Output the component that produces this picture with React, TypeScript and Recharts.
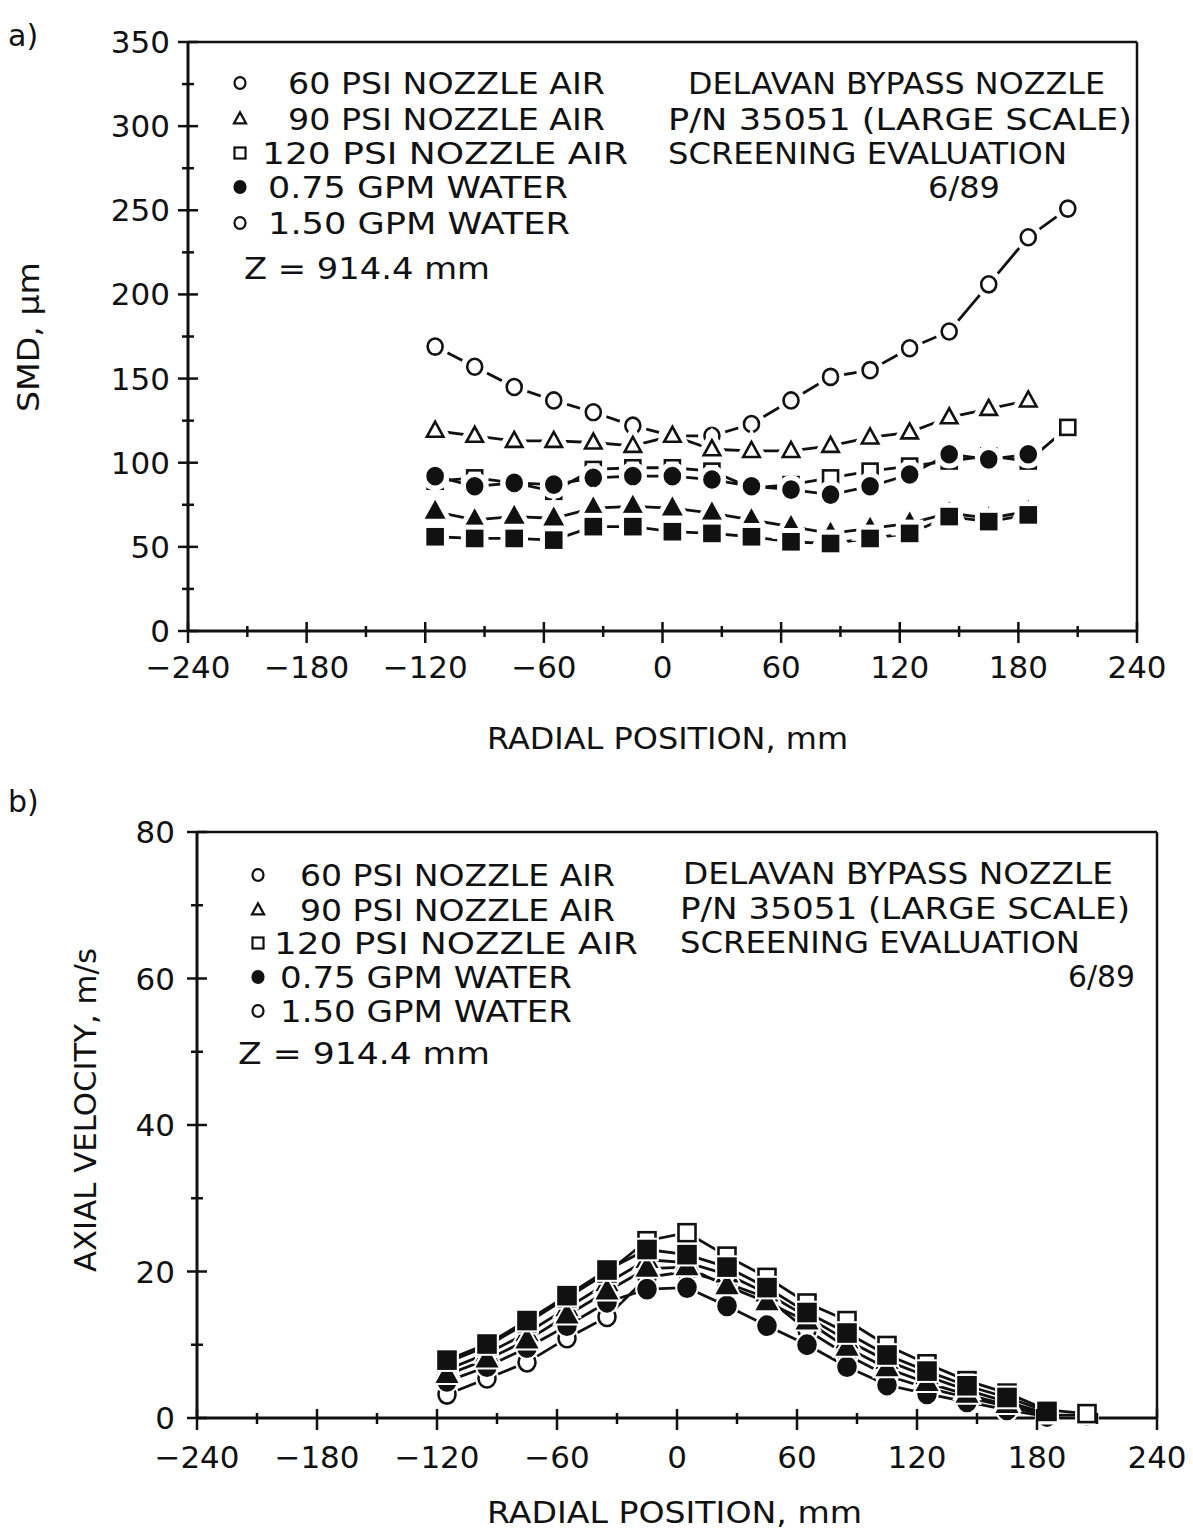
import React from "react";
import { Legend, Line, LineChart, ReferenceLine, XAxis, YAxis } from "recharts";

// radial traverse positions, mm
const RADIAL_POSITION_MM = [-115, -95, -75, -55, -35, -15, 5, 25, 45, 65, 85, 105, 125, 145, 165, 185, 205];

// a) SMD, um  (nozzle air pressure / water flow)
const SMD_60PSI_150GPM = [169, 157, 145, 137, 130, 122, 116, 116, 123, 137, 151, 155, 168, 178, 206, 234, 251];
const SMD_90PSI_150GPM = [119, 116, 113, 113, 112, 110, 116, 108, 107, 107, 110, 115, 118, 127, 132, 137, null];
const SMD_120PSI_150GPM = [89, 91, 88, 83, 96, 97, 97, 95, 85, 87, 91, 95, 98, 101, 104, 101, 121];
const SMD_60PSI_075GPM = [92, 86, 88, 87, 91, 92, 92, 90, 86, 84, 81, 86, 93, 105, 102, 105, null];
const SMD_90PSI_075GPM = [71, 66, 68, 67, 73, 74, 73, 70, 66, 62, 58, 61, 64, 70, 67, 71, null];
const SMD_120PSI_075GPM = [56, 55, 55, 54, 62, 62, 59, 58, 56, 53, 52, 55, 58, 68, 65, 69, null];

// b) axial velocity, m/s
const VEL_60PSI_150GPM = [3.2, 5.4, 7.6, 10.9, 13.8, 19.2, 20.0, 18.4, 16.4, 12.0, 8.6, 5.8, 4.1, 2.8, 1.6, 0.4, 0.4];
const VEL_90PSI_150GPM = [6.6, 8.8, 11.6, 15.0, 18.4, 21.6, 21.2, 19.6, 17.0, 13.8, 10.6, 7.8, 5.7, 3.8, 2.2, 0.6, null];
const VEL_120PSI_150GPM = [7.6, 9.8, 13.0, 16.4, 19.8, 24.2, 25.3, 22.1, 19.2, 15.7, 13.3, 9.9, 7.4, 5.1, 3.4, 1.1, 0.6];
const VEL_60PSI_075GPM = [5.0, 7.0, 9.6, 12.6, 15.8, 17.6, 17.8, 15.3, 12.6, 10.0, 7.0, 4.5, 3.3, 2.2, 1.1, 0.2, null];
const VEL_90PSI_075GPM = [5.9, 8.0, 10.6, 14.0, 17.3, 20.4, 20.6, 18.0, 15.8, 13.2, 9.6, 6.8, 4.8, 3.2, 1.8, 0.5, null];
const VEL_120PSI_075GPM = [7.9, 10.1, 13.3, 16.7, 20.2, 23.0, 22.3, 20.6, 17.8, 14.4, 11.6, 8.6, 6.4, 4.4, 2.8, 0.9, null];

const X_TICKS = [-240, -210, -180, -150, -120, -90, -60, -30, 0, 30, 60, 90, 120, 150, 180, 210, 240];
const SMD_TICKS = [0, 25, 50, 75, 100, 125, 150, 175, 200, 225, 250, 275, 300, 325, 350];
const VELOCITY_TICKS = [0, 10, 20, 30, 40, 50, 60, 70, 80];

const LEGEND_LABELS = ["60 PSI NOZZLE AIR", "90 PSI NOZZLE AIR", "120 PSI NOZZLE AIR", "0.75 GPM WATER", "1.50 GPM WATER"];
const NOTE_LINES = ["DELAVAN BYPASS NOZZLE", "P/N 35051 (LARGE SCALE)", "SCREENING EVALUATION", "6/89"];
const Z_LABEL = "Z = 914.4 mm";

type Shape = "circle" | "triangle" | "square";

// open = 1.50 gpm water, filled = 0.75 gpm water
const SERIES: { key: string; shape: Shape; filled: boolean }[] = [
  { key: "p60w150", shape: "circle", filled: false },
  { key: "p90w150", shape: "triangle", filled: false },
  { key: "p120w150", shape: "square", filled: false },
  { key: "p60w075", shape: "circle", filled: true },
  { key: "p90w075", shape: "triangle", filled: true },
  { key: "p120w075", shape: "square", filled: true },
];

const LEGEND_MARKERS: { shape: Shape; filled: boolean }[] = [
  { shape: "circle", filled: false },
  { shape: "triangle", filled: false },
  { shape: "square", filled: false },
  { shape: "circle", filled: true },
  { shape: "circle", filled: false },
];

const smdRows = RADIAL_POSITION_MM.map((r, i) => ({
  r,
  p60w150: SMD_60PSI_150GPM[i],
  p90w150: SMD_90PSI_150GPM[i],
  p120w150: SMD_120PSI_150GPM[i],
  p60w075: SMD_60PSI_075GPM[i],
  p90w075: SMD_90PSI_075GPM[i],
  p120w075: SMD_120PSI_075GPM[i],
}));

const velocityRows = RADIAL_POSITION_MM.map((r, i) => ({
  r,
  p60w150: VEL_60PSI_150GPM[i],
  p90w150: VEL_90PSI_150GPM[i],
  p120w150: VEL_120PSI_150GPM[i],
  p60w075: VEL_60PSI_075GPM[i],
  p90w075: VEL_90PSI_075GPM[i],
  p120w075: VEL_120PSI_075GPM[i],
}));

const FONT = "'DejaVu Sans', 'Liberation Sans', sans-serif";
const INK = "#111";

const PANEL_A = {
  top: 0,
  height: 770,
  margin: { top: 42, right: 56, bottom: 29, left: 0 },
  yAxisWidth: 188,
  xAxisHeight: 110,
  tag: { text: "a)", x: 8, y: 46 },
  markerX: 240,
  rowY: [83, 119, 153, 187, 223],
  spans: [[288, 605], [288, 605], [262, 628], [268, 568], [268, 570]],
  z: { y: 268, span: [244, 490] },
  noteY: [83, 119, 153, 187],
  noteSpans: [[688, 1105], [668, 1132], [668, 1067], [928, 1000]],
  xTitle: { y: 738, span: [487, 848] },
  yTitle: { x: 28, span: [262, 412], text: "SMD, \u03bcm" },
  xLabelDy: 36,
  yLabelDx: 18,
  majorX: 60,
  majorY: 50,
  marker: 7.5,
  halo: 5,
};

const PANEL_B = {
  top: 780,
  height: 756,
  margin: { top: 52, right: 36, bottom: 18, left: 0 },
  yAxisWidth: 197,
  xAxisHeight: 100,
  tag: { text: "b)", x: 8, y: 32 },
  markerX: 258,
  rowY: [95, 130, 163, 197, 231],
  spans: [[300, 615], [300, 615], [274, 638], [280, 572], [280, 572]],
  z: { y: 273, span: [238, 490] },
  noteY: [93, 128, 162, 196],
  noteSpans: [[683, 1113], [680, 1130], [680, 1080], [1068, 1135]],
  xTitle: { y: 732, span: [487, 862] },
  yTitle: { x: 85, span: [168, 492], text: "AXIAL VELOCITY, m/s" },
  xLabelDy: 39,
  yLabelDx: 22,
  majorX: 60,
  majorY: 20,
  marker: 8.5,
  halo: 2,
};

type Panel = typeof PANEL_A;

const fmt = (v: number) => (v < 0 ? `\u2212${-v}` : `${v}`);

function shapeEl(shape: Shape, cx: number, cy: number, s: number, style: any) {
  if (shape === "circle") return <ellipse cx={cx} cy={cy} rx={s} ry={s * 1.07} {...style} />;
  if (shape === "triangle")
    return (
      <polygon
        points={`${cx},${cy - s * 1.2} ${cx - s * 1.1},${cy + s * 0.8} ${cx + s * 1.1},${cy + s * 0.8}`}
        {...style}
      />
    );
  return <rect x={cx - s} y={cy - s} width={2 * s} height={2 * s} {...style} />;
}

function makeDot(shape: Shape, filled: boolean, size: number, halo: number) {
  return (props: any) => {
    const { cx, cy, index, dataKey, payload } = props;
    const k = `${dataKey}-${index}`;
    if (cx == null || cy == null || payload?.[dataKey] == null) return <g key={k} />;
    return (
      <g key={k}>
        {shapeEl(shape, cx, cy, size, { fill: "#fff", stroke: "#fff", strokeWidth: 2.6 + 2 * halo })}
        {shapeEl(shape, cx, cy, size, { fill: filled ? INK : "#fff", stroke: INK, strokeWidth: 2.6 })}
      </g>
    );
  };
}

function SpanText({ span, y, text, size = 30 }: { span: number[]; y: number; text: string; size?: number }) {
  return (
    <text
      x={span[0]}
      y={y + 11}
      fontSize={size}
      fontFamily={FONT}
      fill={INK}
      textLength={span[1] - span[0]}
      lengthAdjust="spacingAndGlyphs"
    >
      {text}
    </text>
  );
}

function renderXTick(p: any, P: Panel) {
  const { x, y, payload } = p;
  const v = payload.value as number;
  const major = v % P.majorX === 0;
  return (
    <g>
      <line x1={x} x2={x} y1={y - (major ? 9 : 5)} y2={y + (major ? 12 : 6)} stroke={INK} strokeWidth={2.5} />
      {major && (
        <text x={x} y={y + P.xLabelDy + 11} textAnchor="middle" fontSize={31} fontFamily={FONT} fill={INK}>
          {fmt(v)}
        </text>
      )}
    </g>
  );
}

function renderYTick(p: any, P: Panel) {
  const { x, y, payload } = p;
  const v = payload.value as number;
  const major = v % P.majorY === 0;
  return (
    <g>
      <line x1={x - (major ? 10 : 6)} x2={x + (major ? 10 : 6)} y1={y} y2={y} stroke={INK} strokeWidth={2.5} />
      {major && (
        <text x={x - P.yLabelDx} y={y + 11} textAnchor="end" fontSize={31} fontFamily={FONT} fill={INK}>
          {fmt(v)}
        </text>
      )}
    </g>
  );
}

function Annotations({ P }: { P: Panel }) {
  const yLen = P.yTitle.span[1] - P.yTitle.span[0];
  const yMid = (P.yTitle.span[0] + P.yTitle.span[1]) / 2;
  return (
    <svg width={1193} height={P.height} style={{ display: "block", overflow: "visible" }}>
      <text x={P.tag.x} y={P.tag.y} fontSize={30} fontFamily={FONT} fill={INK}>
        {P.tag.text}
      </text>
      {LEGEND_LABELS.map((label, i) => (
        <g key={label + i}>
          {shapeEl(LEGEND_MARKERS[i].shape, P.markerX, P.rowY[i], 5.5, {
            fill: LEGEND_MARKERS[i].filled ? INK : "#fff",
            stroke: INK,
            strokeWidth: 2.2,
          })}
          <SpanText span={P.spans[i]} y={P.rowY[i]} text={label} />
        </g>
      ))}
      <SpanText span={P.z.span} y={P.z.y} text={Z_LABEL} />
      {NOTE_LINES.map((line, i) => (
        <SpanText key={line} span={P.noteSpans[i]} y={P.noteY[i]} text={line} />
      ))}
      <SpanText span={P.xTitle.span} y={P.xTitle.y} text="RADIAL POSITION, mm" />
      <text
        transform={`translate(${P.yTitle.x},${yMid}) rotate(-90)`}
        x={-yLen / 2}
        y={11}
        fontSize={30}
        fontFamily={FONT}
        fill={INK}
        textLength={yLen}
        lengthAdjust="spacingAndGlyphs"
      >
        {P.yTitle.text}
      </text>
    </svg>
  );
}

function Panel({ P, rows, yMax, yTicks }: { P: Panel; rows: any[]; yMax: number; yTicks: number[] }) {
  return (
    <div style={{ position: "absolute", left: 0, top: P.top }}>
      <LineChart width={1193} height={P.height} data={rows} margin={P.margin}>
        <XAxis
          dataKey="r"
          type="number"
          domain={[-240, 240]}
          ticks={X_TICKS}
          interval={0}
          height={P.xAxisHeight}
          tickSize={0}
          tickMargin={0}
          tickLine={false}
          axisLine={{ stroke: INK, strokeWidth: 3 }}
          tick={(p: any) => renderXTick(p, P)}
        />
        <YAxis
          type="number"
          domain={[0, yMax]}
          ticks={yTicks}
          interval={0}
          width={P.yAxisWidth}
          tickSize={0}
          tickMargin={0}
          tickLine={false}
          axisLine={{ stroke: INK, strokeWidth: 3 }}
          tick={(p: any) => renderYTick(p, P)}
        />
        {/* plot frame: top and right edges */}
        <ReferenceLine y={yMax} stroke={INK} strokeWidth={2.5} ifOverflow="visible" />
        <ReferenceLine x={240} stroke={INK} strokeWidth={2.5} ifOverflow="visible" />
        <Legend
          layout="vertical"
          align="center"
          verticalAlign="middle"
          wrapperStyle={{ position: "absolute", left: 0, top: 0, width: 1193, height: P.height, pointerEvents: "none" }}
          content={() => <Annotations P={P} />}
        />
        {SERIES.map((s) => (
          <Line
            key={s.key}
            dataKey={s.key}
            type="linear"
            stroke={INK}
            strokeWidth={2.8}
            connectNulls={false}
            dot={makeDot(s.shape, s.filled, P.marker, P.halo)}
            activeDot={false}
            legendType="none"
            isAnimationActive={false}
          />
        ))}
      </LineChart>
    </div>
  );
}

export default function App() {
  return (
    <div style={{ position: "absolute", left: 0, top: 0, width: 1193, height: 1536, background: "#fff" }}>
      <Panel P={PANEL_A} rows={smdRows} yMax={350} yTicks={SMD_TICKS} />
      <Panel P={PANEL_B} rows={velocityRows} yMax={80} yTicks={VELOCITY_TICKS} />
    </div>
  );
}
